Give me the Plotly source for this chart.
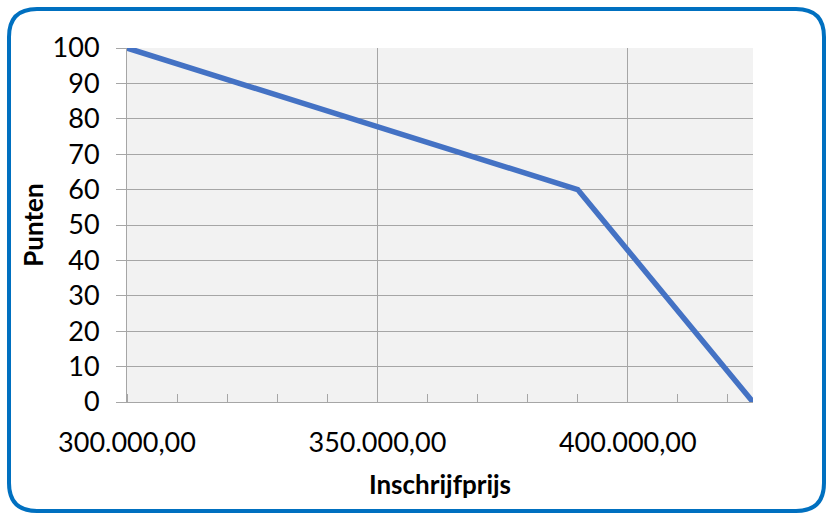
import plotly.graph_objects as go

# Data
prijs = [300000, 390000, 425000]
punten = [100, 60, 0]
x_tickvals = [300000, 350000, 400000]
x_ticktext = ["300.000,00", "350.000,00", "400.000,00"]
y_tickvals = [0, 10, 20, 30, 40, 50, 60, 70, 80, 90, 100]

W, H = 826, 513
L, R, T, B = 127, 73, 48, 111
pw, ph = W - L - R, H - T - B

def px(x):
    return (x - L) / pw

def py(y):
    return (H - B - y) / ph

fig = go.Figure()
fig.add_trace(go.Scatter(x=prijs, y=punten, mode="lines",
                         line=dict(color="#4472C4", width=5.5), showlegend=False,
                         hoverinfo="skip"))

font = "Lato, 'Open Sans', sans-serif"

# rounded border (paper coordinates derived from pixel layout)
x0, x1, y0, y1, r = 9, 824, 9, 511, 28
path = (f"M {px(x0+r)},{py(y0)} L {px(x1-r)},{py(y0)} "
        f"Q {px(x1)},{py(y0)} {px(x1)},{py(y0+r)} "
        f"L {px(x1)},{py(y1-r)} Q {px(x1)},{py(y1)} {px(x1-r)},{py(y1)} "
        f"L {px(x0+r)},{py(y1)} Q {px(x0)},{py(y1)} {px(x0)},{py(y1-r)} "
        f"L {px(x0)},{py(y0+r)} Q {px(x0)},{py(y0)} {px(x0+r)},{py(y0)} Z")

fig.update_layout(
    width=W, height=H,
    margin=dict(l=L, r=R, t=T, b=B),
    paper_bgcolor="white",
    plot_bgcolor="#F2F2F2",
    font=dict(family=font, color="#000000", size=27),
    shapes=[dict(type="path", xref="paper", yref="paper", path=path,
                 line=dict(color="#0070C0", width=4), layer="above")],
)

fig.update_xaxes(
    range=[300000, 425000],
    tickvals=x_tickvals, ticktext=x_ticktext,
    showgrid=True, gridcolor="#A6A6A6", gridwidth=1,
    showline=True, linecolor="#A6A6A6", linewidth=1,
    ticks="", ticklabelstandoff=17,
    tickfont=dict(size=27),
    minor=dict(dtick=10000, tick0=300000, ticks="inside", ticklen=8,
               tickcolor="#A6A6A6", showgrid=False),
    zeroline=False,
    title=dict(text="<b>Inschrijfprijs</b>", font=dict(size=26), standoff=18),
)
fig.update_yaxes(
    range=[0, 100],
    tickvals=y_tickvals,
    showgrid=True, gridcolor="#A6A6A6", gridwidth=1,
    showline=True, linecolor="#A6A6A6", linewidth=1,
    ticks="outside", ticklen=10, tickcolor="#A6A6A6",
    ticklabelstandoff=11,
    tickfont=dict(size=27),
    zeroline=False,
    title=dict(text="<b>Punten</b>", font=dict(size=26), standoff=1),
)

fig.write_html("out.html", config={"displayModeBar": False},
               post_script="document.body.style.margin='0';document.body.style.overflow='hidden';")
